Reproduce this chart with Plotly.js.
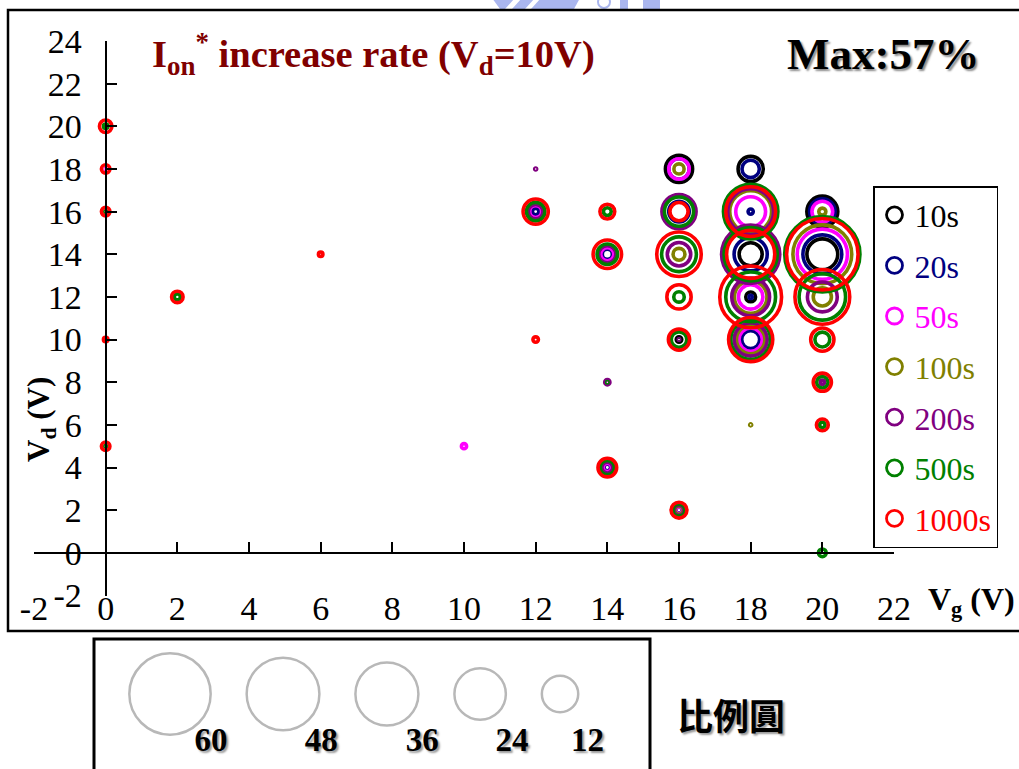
<!DOCTYPE html>
<html><head><meta charset="utf-8">
<script src="https://cdn.plot.ly/plotly-3.0.1.min.js"></script>
<style>html,body{margin:0;padding:0;background:#fff;} #chart{width:1019px;height:769px;}</style>
</head><body><div id="chart"></div>
<script>
// ---- data: measurement grid points (Vg, Vd) ----
const vg = [0,0,0,0,0, 2, 6, 10, 12,12,12, 14,14,14,14, 16,16,16,16,16,16, 18,18,18,18,18,18, 20,20,20,20,20,20,20];
const vd = [20,18,16,10,5, 12, 14, 5, 18,16,10, 16,14,8,4, 18,16,14,12,10,2, 18,16,14,12,10,6, 16,14,12,10,8,6,0];
const n = null;
// Ion* increase rate (%) per stress time, one entry per grid point
const r10   = [n,n,n,n,n, n, n, n, n,n,n, n,n,n,n, 7.4,n,n,n,0.3,n, 6.35,n,5.3,0.96,n,n, 9.6,9.5,n,n,n,n,n];
const r20   = [n,n,n,n,n, n, n, n, n,0.42,n, n,1.0,n,0.42, 4.2,4.2,n,n,n,0.01, 3.0,0.27,11,0.1,3.2,n, 6.5,15.1,n,n,n,n,n];
const r50   = [n,0.01,n,n,n, n, n, 0.27, n,1.4,n, n,1.7,n,0.67, 4.2,n,n,n,n,0.45, n,8.9,n,6.0,5.4,n, 4.3,25.2,n,n,n,n,n];
const r100  = [n,n,n,n,n, n, n, n, n,n,n, n,n,n,n, 1.04,n,1.4,n,n,0.7, n,17.5,n,10.6,8.1,0.04, 0.5,34.6,3.3,n,0.02,n,n];
const r200  = [n,n,n,n,n, n, n, n, 0.04,2.1,n, n,2.9,0.27,1.17, n,11.7,5.5,n,0.02,1.0, n,21,33.9,14.3,11,n, n,n,8.9,n,0.18,0.01,n];
const r500  = [0.2,n,0.03,n,0.03, 0.36, n, n, n,3.4,n, 0.61,4.2,0.02,2.0, n,8.5,12.1,1.1,2.4,1.4, n,29.7,28.3,24.8,15.8,n, n,56.6,21.6,2.2,1.3,0.3,0.6];
const r1000 = [1.56,0.72,0.72,0.2,0.72, 1.32, 0.2, n, n,6.35,0.3, 2.2,8.1,n,3.5, n,3.3,19.8,5.9,4.5,2.5, n,24.8,23.2,38.2,19.5,n, n,51.1,30,5.4,3.3,1.4,n];
const seriesNames = ['10s','20s','50s','100s','200s','500s','1000s'];
const scaleVals = [60,48,36,24,12];
const xTicks = [-2,0,2,4,6,8,10,12,14,16,18,20,22];
const yTicks = [-2,0,2,4,6,8,10,12,14,16,18,20,22,24];

// ---- styling / layout constants ----
const seriesColors = ['#000000','#000080','#ff00ff','#808000','#800080','#008000','#ff0000'];
const seriesVals = [r10,r20,r50,r100,r200,r500,r1000];
const W = 1019, H = 769, L = 34, R = 125, T = 41, B = 0;
const PW = W - L - R, PH = H - T - B;
const px = x => (x - L) / PW;
const py = y => (H - B - y) / PH;
const xRange = [-2, 22], yRange = [-2, 24];
const yDomBottom = py(595.5);
const yZeroPaper = yDomBottom + (0 - yRange[0]) / (yRange[1] - yRange[0]) * (1 - yDomBottom);
const xZeroPaper = (0 - xRange[0]) / (xRange[1] - xRange[0]);
const K = 10;            // ring diameter px per sqrt(%)
const sizeref = 2 / (K * K);
const KS = 10.5;         // scale-key circles
const serif = 'Liberation Serif, Times New Roman, serif';

const traces = [];
seriesVals.forEach((vals, i) => {
  const xs = [], ys = [], ss = [];
  vals.forEach((v, j) => { if (v !== null) { xs.push(vg[j]); ys.push(vd[j]); ss.push(v); } });
  traces.push({type:'scatter', mode:'markers', x:xs, y:ys, xaxis:'x', yaxis:'y',
    showlegend:false, legendgroup:'g'+i, hoverinfo:'skip',
    marker:{symbol:'circle-open', size:ss, sizemode:'area', sizeref:sizeref, sizemin:0, opacity:1,
      color:seriesColors[i], line:{color:seriesColors[i], width:3.6}}});
});
seriesNames.forEach((nm, i) => traces.push({type:'scatter', mode:'markers', x:[null], y:[null],
  xaxis:'x2', yaxis:'y', name:'<span style="color:' + seriesColors[i] + '">' + nm + '</span>',
  legendgroup:'g'+i, showlegend:true, hoverinfo:'skip',
  marker:{symbol:'circle-open', size:16, opacity:1, color:seriesColors[i], line:{color:seriesColors[i], width:2.8}}}));

// scale key (比例圓): centres laid out from circle radii
const radii = scaleVals.map(v => KS * Math.sqrt(v) / 2);
const cx = [];
radii.forEach((r, i) => cx.push(i === 0 ? 170 : cx[i-1] + radii[i-1] + r + 36));
traces.push({type:'scatter', mode:'markers', x:cx, y:scaleVals.map(() => 0), xaxis:'x3', yaxis:'y3',
  showlegend:false, hoverinfo:'skip',
  marker:{symbol:'circle-open', size:scaleVals, sizemode:'area', sizeref:2/(KS*KS), opacity:1,
    color:'#b8b8b8', line:{color:'#b8b8b8', width:2.5}}});
traces.push({type:'scatter', mode:'text', x:cx.map((c, i) => c + 0.6 * radii[i]), y:scaleVals.map(() => -49),
  xaxis:'x3', yaxis:'y3', showlegend:false, hoverinfo:'skip',
  text:scaleVals.map(String), textposition:'middle right',
  textfont:{family:serif, size:33, color:'#000', weight:'bold', shadow:'2px 2px 2px #9a9a9a'}});

const layout = {
  width:W, height:H, margin:{l:L, r:R, t:T, b:B, pad:0},
  paper_bgcolor:'#ffffff', plot_bgcolor:'rgba(0,0,0,0)',
  hovermode:false, showlegend:true,
  font:{family:serif, color:'#000'},
  xaxis:{domain:[0,1], range:xRange, anchor:'free', position:py(584.5), showline:false, showgrid:false, zeroline:false,
    ticks:'', tickmode:'array', tickvals:xTicks, ticktext:xTicks.map(String), tickfont:{size:34, family:serif}, fixedrange:true},
  xaxis2:{overlaying:'x', anchor:'free', position:yZeroPaper, range:xRange, showline:true, linecolor:'#000', linewidth:2,
    ticks:'inside', ticklen:10, tickwidth:2, tickcolor:'#000', tickmode:'linear', tick0:0, dtick:2,
    showticklabels:false, showgrid:false, zeroline:false, fixedrange:true},
  yaxis:{domain:[yDomBottom,1], range:yRange, anchor:'free', position:xZeroPaper, side:'left',
    showline:true, linecolor:'#000', linewidth:2, ticks:'inside', ticklen:10, tickwidth:2, tickcolor:'#000',
    tickmode:'array', tickvals:yTicks, ticktext:yTicks.map(String), showgrid:false, zeroline:false,
    tickfont:{size:34, family:serif}, ticklabelstandoff:16, fixedrange:true},
  xaxis3:{domain:[0,1], range:[L, W - R], anchor:'y3', visible:false, fixedrange:true},
  yaxis3:{domain:[0,0.2], range:[-(H - B - 694), 694 - (H - B - 0.2 * PH)], anchor:'x3', visible:false, fixedrange:true},
  legend:{x:px(873), xanchor:'left', y:py(186), yanchor:'top', bgcolor:'#fff', bordercolor:'#000', borderwidth:1.5,
    font:{family:serif, size:32, color:'#000'}, tracegroupgap:6, traceorder:'grouped'},
  annotations:[
    {xref:'paper', yref:'paper', x:px(150), y:py(54), xanchor:'left', yanchor:'middle', showarrow:false,
      text:'<b>I<sub>on</sub><sup>*</sup> increase rate (V<sub>d</sub>=10V)</b>', font:{family:serif, size:38.5, color:'#800000'}},
    {xref:'paper', yref:'paper', x:px(785), y:py(54), xanchor:'left', yanchor:'middle', showarrow:false,
      text:'<b>Max:57%</b>', font:{family:serif, size:45, color:'#000', shadow:'2px 2px 2px #8a8a8a'}},
    {xref:'paper', yref:'paper', x:px(41), y:py(420), xanchor:'center', yanchor:'middle', showarrow:false, textangle:-90,
      text:'<b>V<sub>d</sub> (V)</b>', font:{family:serif, size:31, color:'#000'}},
    {xref:'paper', yref:'paper', x:px(971), y:py(601), xanchor:'center', yanchor:'middle', showarrow:false,
      text:'<b>V<sub>g</sub> (V)</b>', font:{family:serif, size:32, color:'#000'}},
    {xref:'paper', yref:'paper', x:px(731), y:py(714), xanchor:'center', yanchor:'middle', showarrow:false,
      text:'<b>比例圓</b>', font:{family:'Noto Sans CJK TC', size:36, color:'#000', shadow:'2px 2px 2px #9a9a9a'}}
  ],
  shapes:[
    {type:'rect', xref:'paper', yref:'paper', x0:px(8), x1:px(1035), y0:py(631), y1:py(10), line:{color:'#000', width:2.5}, layer:'above'},
    {type:'rect', xref:'paper', yref:'paper', x0:px(94), x1:px(650), y0:py(800), y1:py(639), line:{color:'#000', width:3}, layer:'above'},
    {type:'path', xref:'paper', yref:'paper', layer:'below', line:{width:0}, fillcolor:'#aab6ee',
      path:'M'+px(492)+','+py(-2)+' L'+px(580)+','+py(-2)+' L'+px(574)+','+py(9)+' L'+px(500)+','+py(9)+' Z'},
    {type:'path', xref:'paper', yref:'paper', layer:'below', line:{width:0}, fillcolor:'#ffffff',
      path:'M'+px(515)+','+py(-2)+' L'+px(522)+','+py(-2)+' L'+px(512)+','+py(9)+' L'+px(505)+','+py(9)+' Z'},
    {type:'path', xref:'paper', yref:'paper', layer:'below', line:{width:0}, fillcolor:'#ffffff',
      path:'M'+px(535)+','+py(-2)+' L'+px(541)+','+py(-2)+' L'+px(531)+','+py(9)+' L'+px(525)+','+py(9)+' Z'},
    {type:'rect', xref:'paper', yref:'paper', layer:'below', line:{width:0}, fillcolor:'#aab6ee', x0:px(620), x1:px(628), y0:py(9), y1:py(-2)},
    {type:'rect', xref:'paper', yref:'paper', layer:'below', line:{width:0}, fillcolor:'#aab6ee', x0:px(643), x1:px(660), y0:py(9), y1:py(-2)},
    {type:'circle', xref:'paper', yref:'paper', layer:'below', line:{color:'#aab6ee', width:2}, fillcolor:'#ffffff', x0:px(598), x1:px(610), y0:py(8), y1:py(-4)}
  ]
};
Plotly.newPlot('chart', traces, layout, {staticPlot:true, displayModeBar:false});
</script></body></html>
